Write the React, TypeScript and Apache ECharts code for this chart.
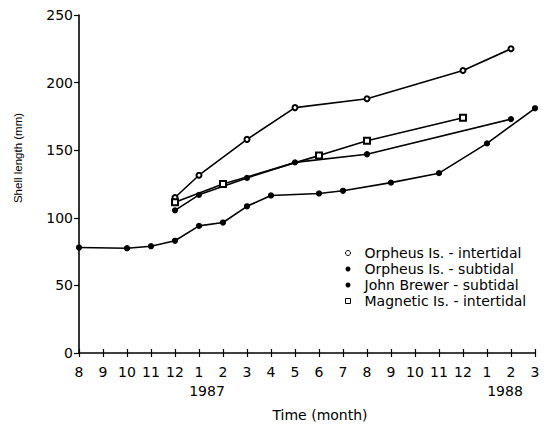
import React, { useEffect, useRef } from "react";
import * as echarts from "echarts";

const months = ["8", "9", "10", "11", "12", "1", "2", "3", "4", "5", "6", "7", "8", "9", "10", "11", "12", "1", "2", "3"];
const yTicks = [0, 50, 100, 150, 200, 250];

const orpheusIntertidal = [null, null, null, null, 115, 131.5, null, 158, null, 181.5, null, null, 188, null, null, null, 209, null, 225, null];
const orpheusSubtidal = [78, null, 77.5, 79, 83, 94, 96.5, 108.5, 116.5, null, 118, 120, null, 126, null, 133, null, 155, null, 181];
const johnBrewer = [null, null, null, null, 105.5, 117, null, 129.5, null, 141, null, null, 147, null, null, null, null, null, 173, null];
const magneticIntertidal = [null, null, null, null, 111.5, null, 125, null, null, null, 146, null, 157, null, null, null, 174, null, null, null];

const seriesNames = [
  "Orpheus Is. - intertidal",
  "Orpheus Is. - subtidal",
  "John Brewer - subtidal",
  "Magnetic Is. - intertidal",
];

const FONT = "DejaVu Sans, Verdana, sans-serif";
const SMALL = "Liberation Sans, Arial, sans-serif";

export default function App() {
  const ref = useRef<HTMLDivElement>(null);
  useEffect(() => {
    if (!ref.current) return;
    const chart = echarts.init(ref.current, null, { renderer: "svg" });
    const lineBase = (name: string, data: (number | null)[], symbol: string, size: number) => ({
      name,
      type: "line",
      data,
      connectNulls: true,
      symbol,
      symbolSize: size,
      showAllSymbol: true,
      lineStyle: { color: "#000", width: 1.6 },
      itemStyle: { color: "#000", borderColor: "#000", borderWidth: 1.2 },
      emphasis: { disabled: true },
    });
    chart.setOption({
      animation: false,
      backgroundColor: "#fff",
      textStyle: { fontFamily: FONT, color: "#000" },
      grid: { left: 79, right: 12, top: 15, bottom: 74, containLabel: false },
      xAxis: [
        {
          type: "category",
          data: months,
          boundaryGap: false,
          axisLine: { lineStyle: { color: "#000", width: 1.6 } },
          axisTick: { show: true, length: 4, lineStyle: { color: "#000", width: 1.2 } },
          axisLabel: { color: "#000", fontSize: 14, fontFamily: FONT, margin: 12, interval: 0 },
          splitLine: { show: false },
        },
        {
          type: "category",
          data: months,
          boundaryGap: false,
          position: "bottom",
          axisLine: { show: false },
          axisTick: { show: true, inside: true, length: 4, lineStyle: { color: "#000", width: 1.2 } },
          axisLabel: { show: false },
          splitLine: { show: false },
        },
      ],
      yAxis: {
        type: "value",
        min: 0,
        max: 250,
        interval: 50,
        axisLine: { show: true, lineStyle: { color: "#000", width: 1.6 } },
        axisTick: { show: true, length: 5, lineStyle: { color: "#000", width: 1.2 } },
        axisLabel: {
          color: "#000",
          fontSize: 14,
          fontFamily: FONT,
          margin: 6,
          formatter: (v: number) => (yTicks.includes(v) ? String(v) : ""),
        },
        splitLine: { show: false },
      },
      legend: {
        orient: "vertical",
        left: 345,
        top: 246,
        padding: 0,
        itemGap: 2,
        itemWidth: 5,
        itemHeight: 5,
        textStyle: { fontSize: 14, lineHeight: 14, color: "#000", fontFamily: FONT, padding: [0, 0, 0, 9] },
        data: [
          { name: seriesNames[0], icon: "circle", itemStyle: { color: "#fff", borderColor: "#000", borderWidth: 1 } },
          { name: seriesNames[1], icon: "circle", itemStyle: { color: "#000", borderWidth: 0 } },
          { name: seriesNames[2], icon: "circle", itemStyle: { color: "#000", borderWidth: 0 } },
          { name: seriesNames[3], icon: "rect", itemStyle: { color: "#fff", borderColor: "#000", borderWidth: 1 } },
        ],
      },
      series: [
        lineBase(seriesNames[0], orpheusIntertidal, "emptyCircle", 5),
        lineBase(seriesNames[1], orpheusSubtidal, "circle", 5),
        lineBase(seriesNames[2], johnBrewer, "circle", 5),
        lineBase(seriesNames[3], magneticIntertidal, "emptyRect", 6),
      ],
      graphic: [
        {
          type: "text",
          x: 207,
          y: 391,
          style: { text: "1987", font: `14px ${FONT}`, fill: "#000", textAlign: "center", textVerticalAlign: "middle" },
        },
        {
          type: "text",
          x: 505,
          y: 391,
          style: { text: "1988", font: `14px ${FONT}`, fill: "#000", textAlign: "center", textVerticalAlign: "middle" },
        },
        {
          type: "text",
          x: 320,
          y: 415,
          style: { text: "Time (month)", font: `14px ${FONT}`, fill: "#000", textAlign: "center", textVerticalAlign: "middle" },
        },
        {
          type: "text",
          x: 18,
          y: 158,
          rotation: Math.PI / 2,
          style: { text: "Shell length (mm)", font: `11.5px ${SMALL}`, fill: "#000", textAlign: "center", textVerticalAlign: "middle" },
        },
      ],
    });
    return () => chart.dispose();
  }, []);
  return <div ref={ref} style={{ width: 547, height: 427, position: "absolute", left: 0, top: 0 }} />;
}
